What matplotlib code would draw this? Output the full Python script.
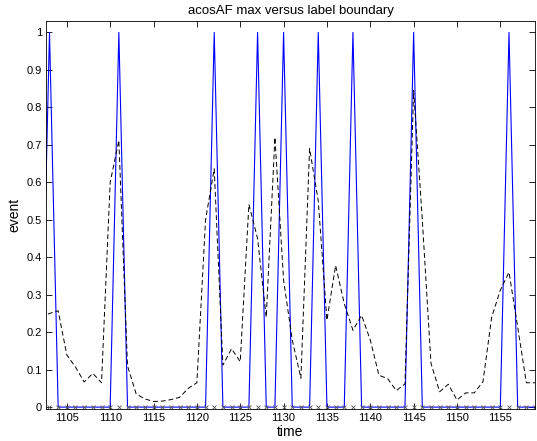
import numpy as np
import matplotlib
matplotlib.use("Agg")
import matplotlib.pyplot as plt

# frame times
times = list(range(1102, 1160))

# label boundary events (1 = boundary)
boundary_times = [1103, 1111, 1122, 1127, 1130, 1134, 1138, 1145, 1156]

# acosAF max, one value per frame from 1102 to 1159
acos_max = [0.24, 0.25, 0.257, 0.139, 0.107, 0.067, 0.09, 0.065, 0.60, 0.712,
            0.11, 0.035, 0.022, 0.015, 0.016, 0.02, 0.026, 0.05, 0.065, 0.50,
            0.636, 0.112, 0.156, 0.121, 0.541, 0.45, 0.24, 0.72, 0.339, 0.179,
            0.077, 0.69, 0.55, 0.232, 0.378, 0.276, 0.205, 0.245, 0.179, 0.085,
            0.076, 0.044, 0.062, 0.845, 0.50, 0.117, 0.041, 0.061, 0.019, 0.038,
            0.038, 0.068, 0.24, 0.312, 0.36, 0.214, 0.065, 0.065]

labels = [1.0 if t in boundary_times else 0.0 for t in times]


def main():
    plt.rcParams['font.family'] = ['Liberation Sans', 'DejaVu Sans']
    fig = plt.figure(figsize=(5.37, 4.41), dpi=100)
    ax = fig.add_axes([0.0857, 0.0726, 0.9106, 0.8794])

    ax.plot(times, labels, color='#0000ff', lw=0.8)
    ax.plot(times, acos_max, color='black', lw=0.7, ls=(0, (5, 3)))
    ax.plot(times, np.zeros(len(times)), ls='none', marker='x', ms=3.5,
            mew=0.6, color='#555555')

    ax.set_xlim(1102.6, 1159)
    ax.set_ylim(-0.005, 1.03)
    ax.set_xticks(range(1105, 1160, 5))
    ax.set_yticks(np.arange(0, 1.01, 0.1))
    ax.set_yticklabels(['0'] + ['%.1f' % v for v in np.arange(0.1, 0.95, 0.1)] + ['1'])
    ax.tick_params(direction='in', top=True, right=True, length=4, width=0.6,
                   labelsize=8, pad=3)
    for s in ax.spines.values():
        s.set_linewidth(0.6)

    ax.set_title('acosAF max versus label boundary', fontsize=9.5, pad=5)
    ax.set_xlabel('time', fontsize=10, labelpad=1)
    ax.set_ylabel('event', fontsize=10, labelpad=4)

    fig.savefig('out.png', dpi=100)


if __name__ == '__main__':
    main()
